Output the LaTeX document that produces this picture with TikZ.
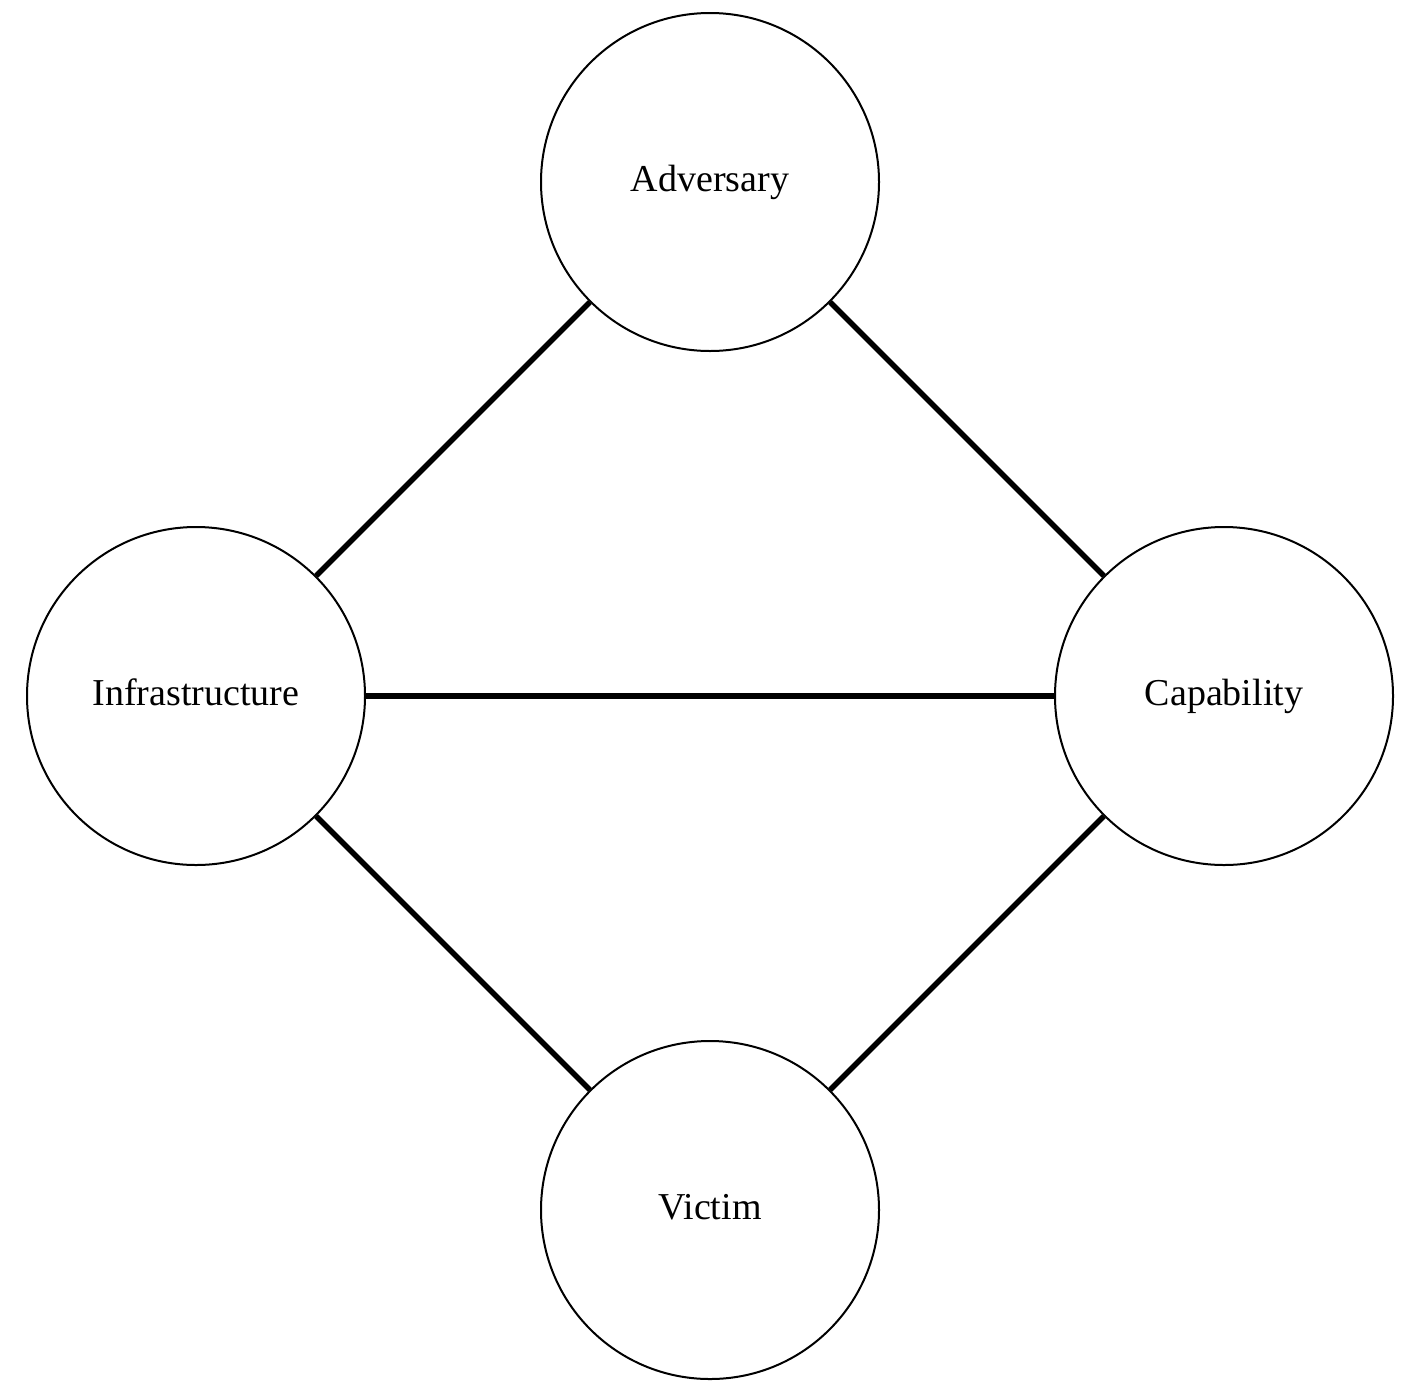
\documentclass[tikz,border=0pt]{standalone}
\usepackage{fontspec}
\setmainfont{Liberation Serif}
\begin{document}
\begin{tikzpicture}[x=1pt,y=-1pt,
  vertex/.style={circle,draw=black,line width=2pt,minimum size=338pt,inner sep=0pt,
    font=\fontsize{38}{42}\selectfont,text height=26pt,text depth=8pt},
  link/.style={line width=5.5pt,black}]
\useasboundingbox (0,0) rectangle (1420,1398);
\node[vertex] (adv) at (710,182) {Adversary};
\node[vertex] (inf) at (196,696) {Infrastructure};
\node[vertex] (cap) at (1224,696) {Capability};
\node[vertex] (vic) at (710,1210) {Victim};
\draw[link] (adv) -- (inf);
\draw[link] (adv) -- (cap);
\draw[link] (inf) -- (cap);
\draw[link] (inf) -- (vic);
\draw[link] (cap) -- (vic);
\end{tikzpicture}
\end{document}
